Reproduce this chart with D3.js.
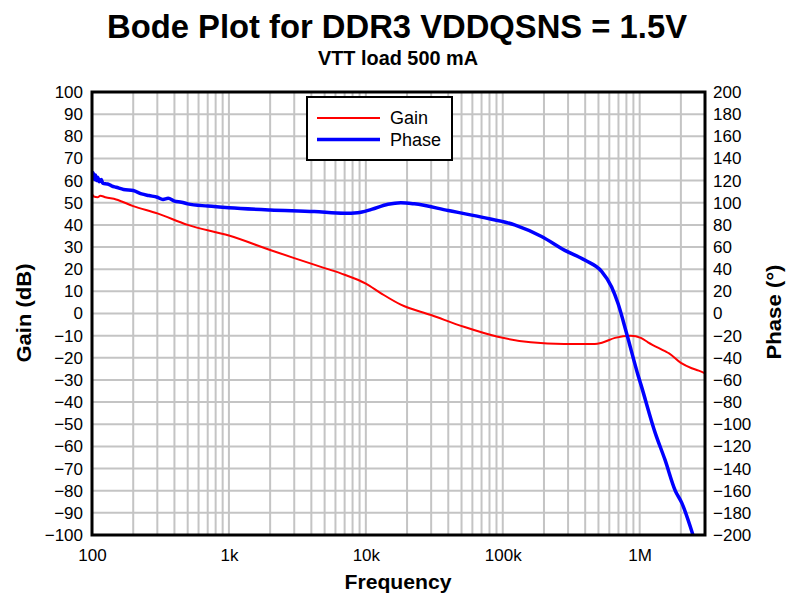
<!DOCTYPE html>
<html>
<head>
<meta charset="utf-8">
<script src="https://cdn.jsdelivr.net/npm/d3@7"></script>
<style>
  body { margin: 0; background: #fff; }
  text { font-family: "Liberation Sans", Arial, sans-serif; fill: #000; }
  .grid line { stroke: #c4c4c4; stroke-width: 2; }
</style>
</head>
<body>
<div id="wrapper"></div>
<script>
// data
const gainFreq = [100, 103, 110, 115, 125, 150, 200, 300, 500, 1000, 2000, 3000, 5000, 7000, 10000, 13000, 18000, 30000, 52000, 92000, 160000, 280000, 470000, 530000, 660000, 860000, 1020000, 1150000, 1530000, 1640000, 2000000, 2400000, 2700000, 3000000]
const gainDb = [54, 52.8, 52.5, 53.2, 52.5, 51.5, 48.5, 45.2, 40, 35.2, 28.7, 25, 20.5, 17.5, 13.5, 9, 4, -0.7, -6, -10.5, -13, -13.8, -13.8, -13.2, -11, -10, -11, -13, -17, -18, -22.3, -24.7, -25.8, -27]

const phaseFreq = [100, 102, 104, 106, 108, 110, 113, 117, 120, 130, 140, 150, 170, 200, 230, 260, 300, 330, 360, 400, 450, 500, 700, 1000, 2000, 4200, 7000, 8700, 11000, 14500, 18000, 22600, 40000, 70000, 122000, 192000, 284000, 400000, 527000, 624000, 695000, 803000, 980000, 1020000, 1300000, 1530000, 1820000, 2030000, 2450000]
const phaseDeg = [124, 127, 121, 125, 120, 123, 119, 121, 117.5, 117, 115, 114, 112, 111, 108, 106.5, 105, 103, 104, 101.5, 100.5, 99, 97, 95.5, 93.5, 92, 90.5, 91, 94, 98.6, 100, 99, 93, 87, 80, 69.5, 57, 48, 38, 24, 9, -18, -57, -64, -108, -132, -160, -171, -200]

const xTickValues = [100, 1000, 10000, 100000, 1000000]
const xTickLabels = ["100", "1k", "10k", "100k", "1M"]

const dimensions = {
    width: 786,
    height: 593,
    margin: { top: 92, right: 81, bottom: 58, left: 92 },
}
dimensions.boundedWidth = dimensions.width - dimensions.margin.left - dimensions.margin.right
dimensions.boundedHeight = dimensions.height - dimensions.margin.top - dimensions.margin.bottom

const wrapper = d3.select("#wrapper")
    .append("svg")
    .attr("width", dimensions.width)
    .attr("height", dimensions.height)

const bounds = wrapper.append("g")
    .attr("transform", `translate(${dimensions.margin.left},${dimensions.margin.top})`)

// scales
const xScale = d3.scaleLog()
    .domain([100, 3e6])
    .range([0, dimensions.boundedWidth])
const gainScale = d3.scaleLinear()
    .domain([-100, 100])
    .range([dimensions.boundedHeight, 0])
const phaseScale = d3.scaleLinear()
    .domain([-200, 200])
    .range([dimensions.boundedHeight, 0])

// grid
const grid = bounds.append("g").attr("class", "grid")
grid.selectAll(".vline")
    .data(xScale.ticks().filter(d => d > 100 && d < 3e6))
    .join("line")
    .attr("x1", d => xScale(d))
    .attr("x2", d => xScale(d))
    .attr("y1", 0)
    .attr("y2", dimensions.boundedHeight)
grid.selectAll(".hline")
    .data(d3.range(-90, 100, 10))
    .join("line")
    .attr("x1", 0)
    .attr("x2", dimensions.boundedWidth)
    .attr("y1", d => gainScale(d))
    .attr("y2", d => gainScale(d))

// clip
wrapper.append("defs").append("clipPath")
    .attr("id", "clip")
    .append("rect")
    .attr("width", dimensions.boundedWidth)
    .attr("height", dimensions.boundedHeight)

const gainLine = d3.line()
    .x((d, i) => xScale(gainFreq[i]))
    .y(d => gainScale(d))
    .curve(d3.curveMonotoneX)
const phaseLine = d3.line()
    .x((d, i) => xScale(phaseFreq[i]))
    .y(d => phaseScale(d))
    .curve(d3.curveMonotoneX)

const lines = bounds.append("g").attr("clip-path", "url(#clip)")
lines.append("path")
    .attr("d", gainLine(gainDb))
    .attr("fill", "none")
    .attr("stroke", "#ff0000")
    .attr("stroke-width", 2)
lines.append("path")
    .attr("d", phaseLine(phaseDeg))
    .attr("fill", "none")
    .attr("stroke", "#0000ff")
    .attr("stroke-width", 3.5)

// frame
bounds.append("rect")
    .attr("width", dimensions.boundedWidth)
    .attr("height", dimensions.boundedHeight)
    .attr("fill", "none")
    .attr("stroke", "#000")
    .attr("stroke-width", 3)

// axes
const xAxis = bounds.append("g")
    .attr("transform", `translate(0,${dimensions.boundedHeight})`)
    .call(d3.axisBottom(xScale).tickValues(xTickValues).tickFormat((d, i) => xTickLabels[i]).tickSize(0).tickPadding(14))
const yAxisLeft = bounds.append("g")
    .call(d3.axisLeft(gainScale).tickValues(d3.range(-100, 101, 10)).tickSize(0).tickPadding(9))
const yAxisRight = bounds.append("g")
    .attr("transform", `translate(${dimensions.boundedWidth},0)`)
    .call(d3.axisRight(phaseScale).tickValues(d3.range(-200, 201, 20)).tickSize(0).tickPadding(8))
;[xAxis, yAxisLeft, yAxisRight].forEach(a => {
    a.select(".domain").remove()
    a.selectAll("text").style("font-size", "17px").style("font-family", "Liberation Sans, Arial, sans-serif").attr("fill", "#000")
})

// titles
wrapper.append("text")
    .attr("x", 397).attr("y", 38)
    .attr("text-anchor", "middle")
    .attr("textLength", 580).attr("lengthAdjust", "spacingAndGlyphs")
    .style("font-size", "34px").style("font-weight", "bold")
    .text("Bode Plot for DDR3 VDDQSNS = 1.5V")
wrapper.append("text")
    .attr("x", 398).attr("y", 65)
    .attr("text-anchor", "middle")
    .attr("textLength", 160).attr("lengthAdjust", "spacingAndGlyphs")
    .style("font-size", "21px").style("font-weight", "bold")
    .text("VTT load 500 mA")
wrapper.append("text")
    .attr("x", 398).attr("y", 589)
    .attr("text-anchor", "middle")
    .attr("textLength", 107).attr("lengthAdjust", "spacingAndGlyphs")
    .style("font-size", "21px").style("font-weight", "bold")
    .text("Frequency")
wrapper.append("text")
    .attr("transform", `translate(31,313) rotate(-90)`)
    .attr("text-anchor", "middle")
    .attr("textLength", 99).attr("lengthAdjust", "spacingAndGlyphs")
    .style("font-size", "21px").style("font-weight", "bold")
    .text("Gain (dB)")
wrapper.append("text")
    .attr("transform", `translate(781,312) rotate(-90)`)
    .attr("text-anchor", "middle")
    .attr("textLength", 95).attr("lengthAdjust", "spacingAndGlyphs")
    .style("font-size", "20px").style("font-weight", "bold")
    .text("Phase (°)")

// legend
const legend = wrapper.append("g")
legend.append("rect")
    .attr("x", 307).attr("y", 97)
    .attr("width", 145).attr("height", 63)
    .attr("fill", "#fff")
    .attr("stroke", "#000")
    .attr("stroke-width", 2)
const legendItems = [
    { label: "Gain", color: "#ff0000", w: 2 },
    { label: "Phase", color: "#0000ff", w: 3.5 },
]
legendItems.forEach((d, i) => {
    const y = 118 + i * 21.5
    legend.append("line")
        .attr("x1", 317).attr("x2", 380)
        .attr("y1", y).attr("y2", y)
        .attr("stroke", d.color).attr("stroke-width", d.w)
    legend.append("text")
        .attr("x", 390).attr("y", y + 6)
        .style("font-size", "18px")
        .text(d.label)
})
</script>
</body>
</html>
